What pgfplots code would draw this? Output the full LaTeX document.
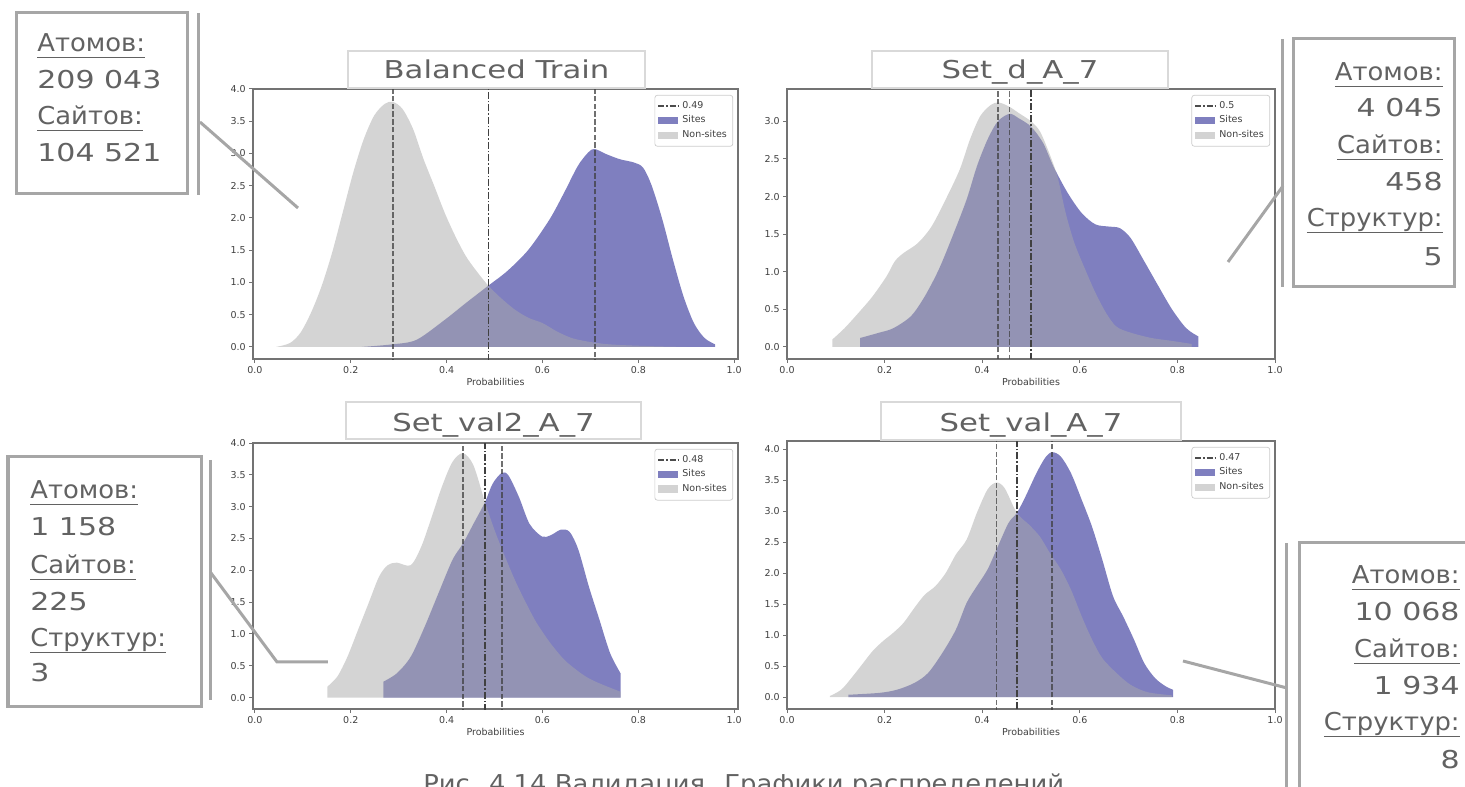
\documentclass[border=0pt]{standalone}
\usepackage{fontspec}
\usepackage{pgfplots}
\pgfplotsset{compat=1.18}
\newfontfamily\mplfont{DejaVu Sans}
\newfontfamily\cgT[FakeStretch=1.25]{DejaVu Sans}
\newfontfamily\cgN[FakeStretch=1.22]{DejaVu Sans}
\newfontfamily\cgC[FakeStretch=1.05]{DejaVu Sans}
\definecolor{navyc}{RGB}{0,0,128}
\definecolor{dgray}{RGB}{169,169,169}
\definecolor{txt}{HTML}{626262}
\definecolor{boxc}{HTML}{A6A6A6}
\definecolor{tboxc}{HTML}{D9D9D9}
\newcommand\tickfont{\mplfont\fontsize{5.4}{6}\selectfont}
\newcommand\fT{\cgT\fontsize{14}{16}\selectfont}
\newcommand\fN{\cgN\fontsize{14}{16}\selectfont}
\newcommand\fC{\cgC\fontsize{14}{16}\selectfont}
\newsavebox\ulbox
\newcommand\ul[1]{\sbox\ulbox{#1}\rlap{\rule[-1.3mm]{\wd\ulbox}{0.38mm}}\usebox\ulbox}

\pgfplotsset{
  panel/.style={scale only axis, anchor=north west, clip=true,
    axis line style={draw=black!55, line width=0.25mm},
    tick style={draw=black!55, line width=0.2mm},
    major tick length=0.8mm, tick align=outside,
    xtick pos=left, ytick pos=left,
    xtick={0,0.2,0.4,0.6,0.8,1.0},
    tick label style={font=\tickfont, text=black!75, inner sep=0.6mm},
    /pgf/number format/fixed, /pgf/number format/fixed zerofill,
    /pgf/number format/precision=1, /pgf/number format/assume math mode=true,
    xlabel={Probabilities}, xlabel style={font=\tickfont, text=black!75, inner sep=0.3mm},
    legend style={at={(rel axis cs:0.99,0.978)}, anchor=north east, draw=black!20,
      rounded corners=0.5mm, fill=white, font=\tickfont, text=black!75,
      inner sep=0.5mm, row sep=-0.45mm},
    legend cell align=left,
  },
  sites/.style={fill=navyc, fill opacity=0.5, draw=none, smooth, forget plot},
  nons/.style={fill=dgray, fill opacity=0.5, draw=none, smooth, forget plot},
  dl/.style={black!75, draw opacity=0.75, line width=0.32mm, dash pattern=on 1.1mm off 0.45mm, forget plot},
  tl/.style={black!75, line width=0.32mm, dash pattern=on 1.4mm off 0.4mm on 0.3mm off 0.4mm, forget plot},
}
\newcommand\mylegend[1]{%
  \addlegendimage{legend image code/.code={\path[draw=black!70, line width=0.3mm, sharp corners, dash pattern=on 1.2mm off 0.4mm on 0.3mm off 0.4mm] (0mm,0mm) -- (4mm,0mm);}}
  \addlegendentry{#1}
  \addlegendimage{legend image code/.code={\path[fill=navyc, fill opacity=0.5, draw=none, sharp corners] (0mm,-0.75mm) rectangle (4mm,0.75mm);}}
  \addlegendentry{Sites}
  \addlegendimage{legend image code/.code={\path[fill=dgray, fill opacity=0.5, draw=none, sharp corners] (0mm,-0.75mm) rectangle (4mm,0.75mm);}}
  \addlegendentry{Non-sites}
}

\begin{document}
\begin{tikzpicture}
\path[use as bounding box] (0,0) rectangle (293mm,-157.4mm);
\clip (0,0) rectangle (293mm,-157.4mm);

% ---------- Panel 1: Balanced Train ----------
\begin{axis}[panel, at={(50.6mm,-17.8mm)}, width=97mm, height=54mm,
  xmin=-0.004, xmax=1.008, ymin=-0.187, ymax=4.0,
  ytick={0,0.5,1,1.5,2,2.5,3,3.5,4}]
\addplot[sites] coordinates {(0.223,0)(0.286,0.04)(0.337,0.11)(0.396,0.42)(0.440,0.68)(0.487,0.95)(0.527,1.18)(0.571,1.51)(0.615,1.98)(0.645,2.39)(0.674,2.81)(0.696,3.02)(0.709,3.07)(0.733,2.99)(0.762,2.91)(0.791,2.86)(0.810,2.78)(0.828,2.50)(0.850,1.98)(0.872,1.36)(0.894,0.79)(0.916,0.37)(0.938,0.14)(0.960,0.04)} \closedcycle;
\addplot[nons] coordinates {(0.044,0)(0.073,0.06)(0.095,0.22)(0.117,0.53)(0.139,0.94)(0.161,1.46)(0.183,2.08)(0.205,2.70)(0.227,3.22)(0.249,3.59)(0.271,3.77)(0.288,3.80)(0.308,3.69)(0.330,3.38)(0.352,2.91)(0.374,2.50)(0.396,2.08)(0.418,1.72)(0.440,1.41)(0.462,1.18)(0.487,0.95)(0.513,0.76)(0.542,0.58)(0.571,0.45)(0.600,0.37)(0.630,0.24)(0.660,0.14)(0.689,0.09)(0.725,0.05)(0.762,0.03)(0.835,0.01)(0.900,0.0)} \closedcycle;
\addplot[dl] coordinates {(0.288,-1)(0.288,5)};
\addplot[dl] coordinates {(0.709,-1)(0.709,5)};
\addplot[tl] coordinates {(0.487,-1)(0.487,5)};
\mylegend{0.49}
\end{axis}

% ---------- Panel 2: Set_d_A_7 ----------
\begin{axis}[panel, at={(157.4mm,-17.8mm)}, width=97.6mm, height=54mm,
  xmin=0, xmax=1.0, ymin=-0.16, ymax=3.43,
  ytick={0,0.5,1,1.5,2,2.5,3}]
\addplot[sites] coordinates {(0.150,0.12)(0.189,0.19)(0.218,0.25)(0.254,0.41)(0.282,0.67)(0.311,1.03)(0.339,1.47)(0.368,1.96)(0.389,2.40)(0.411,2.76)(0.432,3.00)(0.456,3.10)(0.475,3.04)(0.500,2.93)(0.525,2.71)(0.546,2.40)(0.575,2.05)(0.604,1.78)(0.632,1.63)(0.661,1.60)(0.682,1.58)(0.704,1.45)(0.732,1.14)(0.761,0.81)(0.789,0.50)(0.818,0.25)(0.843,0.14)} \closedcycle;
\addplot[nons] coordinates {(0.093,0.10)(0.118,0.25)(0.146,0.45)(0.175,0.67)(0.204,0.94)(0.221,1.14)(0.239,1.25)(0.268,1.38)(0.296,1.60)(0.325,1.96)(0.354,2.36)(0.375,2.76)(0.396,3.07)(0.418,3.22)(0.434,3.25)(0.454,3.20)(0.475,3.11)(0.500,3.00)(0.518,2.87)(0.536,2.60)(0.554,2.27)(0.571,1.78)(0.589,1.38)(0.611,1.03)(0.632,0.72)(0.654,0.45)(0.675,0.27)(0.704,0.19)(0.746,0.12)(0.789,0.08)(0.829,0.04)} \closedcycle;
\addplot[dl] coordinates {(0.432,-1)(0.432,5)};
\addplot[dl] coordinates {(0.456,-1)(0.456,5)};
\addplot[tl] coordinates {(0.500,-1)(0.500,5)};
\mylegend{0.5}
\end{axis}

% ---------- Panel 3: Set_val2_A_7 ----------
\begin{axis}[panel, at={(50.6mm,-88.6mm)}, width=97mm, height=53.2mm,
  xmin=-0.004, xmax=1.008, ymin=-0.18, ymax=4.0,
  ytick={0,0.5,1,1.5,2,2.5,3,3.5,4}]
\addplot[sites] coordinates {(0.268,0.25)(0.296,0.38)(0.325,0.64)(0.354,1.11)(0.383,1.64)(0.412,2.16)(0.434,2.42)(0.456,2.73)(0.480,3.07)(0.496,3.36)(0.515,3.53)(0.529,3.49)(0.551,3.15)(0.573,2.73)(0.599,2.53)(0.617,2.55)(0.639,2.64)(0.657,2.60)(0.675,2.32)(0.697,1.74)(0.719,1.22)(0.741,0.70)(0.763,0.38)} \closedcycle;
\addplot[nons] coordinates {(0.151,0.17)(0.172,0.33)(0.193,0.64)(0.215,1.06)(0.237,1.48)(0.259,1.90)(0.277,2.08)(0.296,2.12)(0.325,2.08)(0.347,2.37)(0.369,2.84)(0.390,3.31)(0.412,3.70)(0.434,3.84)(0.456,3.65)(0.480,3.07)(0.500,2.63)(0.522,2.21)(0.544,1.82)(0.566,1.48)(0.588,1.17)(0.617,0.85)(0.646,0.59)(0.675,0.41)(0.697,0.30)(0.726,0.20)(0.763,0.09)} \closedcycle;
\addplot[dl] coordinates {(0.434,-1)(0.434,5)};
\addplot[dl] coordinates {(0.515,-1)(0.515,5)};
\addplot[tl] coordinates {(0.480,-1)(0.480,5)};
\mylegend{0.48}
\end{axis}

% ---------- Panel 4: Set_val_A_7 ----------
\begin{axis}[panel, at={(157.4mm,-88.2mm)}, width=97.6mm, height=53.6mm,
  xmin=0, xmax=1.0, ymin=-0.19, ymax=4.13,
  ytick={0,0.5,1,1.5,2,2.5,3,3.5,4}]
\addplot[sites] coordinates {(0.126,0.04)(0.189,0.07)(0.225,0.12)(0.261,0.23)(0.289,0.39)(0.318,0.71)(0.346,1.09)(0.368,1.52)(0.389,1.79)(0.411,2.06)(0.432,2.43)(0.454,2.81)(0.471,2.97)(0.489,3.24)(0.511,3.61)(0.529,3.86)(0.543,3.95)(0.561,3.88)(0.582,3.61)(0.604,3.18)(0.625,2.75)(0.646,2.22)(0.668,1.63)(0.689,1.30)(0.711,0.93)(0.732,0.55)(0.754,0.31)(0.775,0.18)(0.791,0.12)} \closedcycle;
\addplot[nons] coordinates {(0.088,0.02)(0.111,0.12)(0.132,0.31)(0.154,0.53)(0.175,0.74)(0.196,0.90)(0.218,1.04)(0.239,1.20)(0.261,1.44)(0.282,1.65)(0.304,1.79)(0.325,2.00)(0.346,2.30)(0.368,2.54)(0.389,2.97)(0.411,3.35)(0.429,3.46)(0.446,3.37)(0.471,2.97)(0.496,2.78)(0.518,2.59)(0.539,2.32)(0.561,2.06)(0.582,1.73)(0.604,1.30)(0.625,0.93)(0.646,0.63)(0.675,0.39)(0.704,0.20)(0.739,0.08)(0.789,0.03)} \closedcycle;
\addplot[dl] coordinates {(0.429,-1)(0.429,5)};
\addplot[dl] coordinates {(0.543,-1)(0.543,5)};
\addplot[tl] coordinates {(0.471,-1)(0.471,5)};
\mylegend{0.47}
\end{axis}

% ---------- annotations (pixel units) ----------
\begin{scope}[x=0.2mm, y=-0.2mm, line cap=butt, every node/.style={inner sep=0pt, text=txt}]
% title boxes
\draw[tboxc, line width=0.55mm, fill=white] (348,51) rectangle (645,88);
\node[anchor=base, font=\fT] at (496.5,79) {Balanced Train};
\draw[tboxc, line width=0.55mm, fill=white] (872,51) rectangle (1168,88);
\node[anchor=base, font=\fT] at (1020,79) {Set\_d\_A\_7};
\draw[tboxc, line width=0.55mm, fill=white] (346,402) rectangle (641,439);
\node[anchor=base, font=\fT] at (493.5,432) {Set\_val2\_A\_7};
\draw[tboxc, line width=0.55mm, fill=white] (881,402) rectangle (1181,440);
\node[anchor=base, font=\fT] at (1031,432) {Set\_val\_A\_7};

% callout 1 (top-left)
\draw[boxc, line width=0.6mm, fill=white] (17,13) rectangle (188,194);
\draw[boxc, line width=0.6mm] (199,13) -- (199,195);
\draw[boxc, line width=0.6mm] (200,122) -- (298,208);
\node[anchor=base west, font=\fC] at (37,52) {\ul{Атомов:}};
\node[anchor=base west, font=\fN] at (37,89) {209 043};
\node[anchor=base west, font=\fC] at (37,125) {\ul{Сайтов:}};
\node[anchor=base west, font=\fN] at (37,162) {104 521};

% callout 2 (top-right)
\draw[boxc, line width=0.6mm, fill=white] (1294,39) rectangle (1455,287);
\draw[boxc, line width=0.6mm] (1283,39) -- (1283,287);
\draw[boxc, line width=0.6mm] (1283,186) -- (1228,262);
\node[anchor=base east, font=\fC] at (1443,81) {\ul{Атомов:}};
\node[anchor=base east, font=\fN] at (1443,117) {4 045};
\node[anchor=base east, font=\fC] at (1443,154) {\ul{Сайтов:}};
\node[anchor=base east, font=\fN] at (1443,191) {458};
\node[anchor=base east, font=\fC] at (1443,227) {\ul{Структур:}};
\node[anchor=base east, font=\fN] at (1443,266) {5};

% callout 3 (bottom-left)
\draw[boxc, line width=0.6mm, fill=white] (8,457) rectangle (202,707);
\draw[boxc, line width=0.6mm] (211,460) -- (211,700);
\draw[boxc, line width=0.6mm] (211,573) -- (277,662) -- (328,662);
\node[anchor=base west, font=\fC] at (30,499) {\ul{Атомов:}};
\node[anchor=base west, font=\fN] at (30,536) {1 158};
\node[anchor=base west, font=\fC] at (30,574) {\ul{Сайтов:}};
\node[anchor=base west, font=\fN] at (30,611) {225};
\node[anchor=base west, font=\fC] at (30,647) {\ul{Структур:}};
\node[anchor=base west, font=\fN] at (30,682) {3};

% callout 4 (bottom-right)
\draw[boxc, line width=0.6mm, fill=white] (1300,543) rectangle (1480,800);
\draw[boxc, line width=0.6mm] (1287,543) -- (1287,800);
\draw[boxc, line width=0.6mm] (1183,661) -- (1287,688);
\node[anchor=base east, font=\fC] at (1460,584) {\ul{Атомов:}};
\node[anchor=base east, font=\fN] at (1460,621) {10 068};
\node[anchor=base east, font=\fC] at (1460,658) {\ul{Сайтов:}};
\node[anchor=base east, font=\fN] at (1460,695) {1 934};
\node[anchor=base east, font=\fC] at (1460,731) {\ul{Структур:}};
\node[anchor=base east, font=\fN] at (1460,769) {8};

% caption (cut at the bottom edge, as in the reference)
\node[anchor=base west, font=\fC] at (423,793) {Рис. 4.14 Валидация. Графики распределений};
\end{scope}
\end{tikzpicture}
\end{document}
